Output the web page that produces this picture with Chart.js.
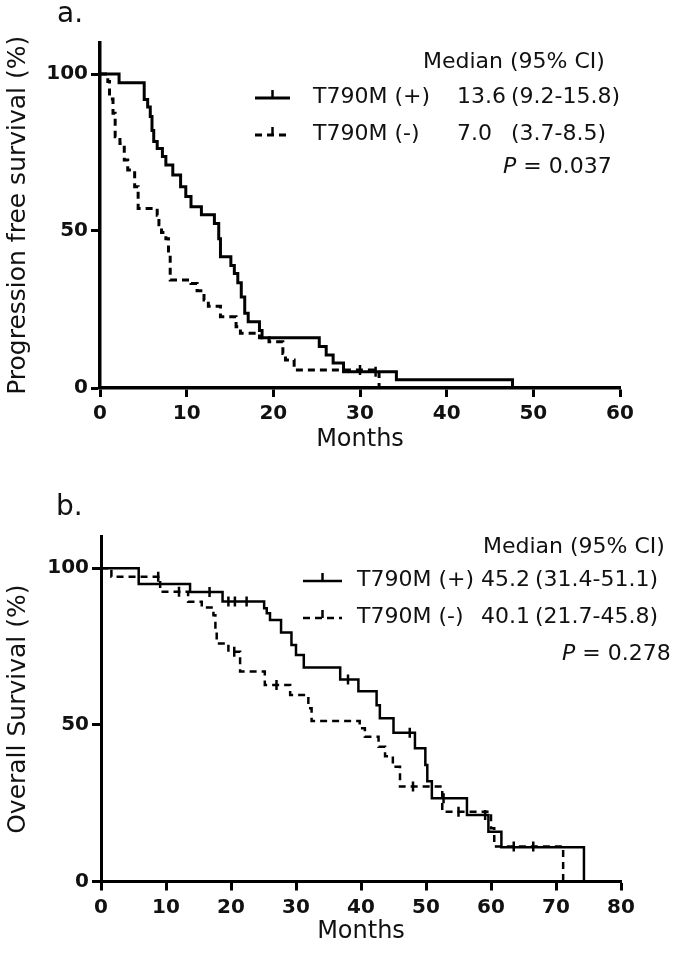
<!DOCTYPE html>
<html>
<head>
<meta charset="utf-8">
<script src="https://cdn.jsdelivr.net/npm/chart.js@4.4.0/dist/chart.umd.min.js"></script>
<style>
    body { margin: 0; background: #fff; }
    canvas { display: block; }
</style>
</head>
<body>
<canvas id="pfsChart" width="685" height="477"></canvas>
<canvas id="osChart" width="685" height="477"></canvas>
<script>
// a. progression free survival (KM steps)
var pfsPosMonths = [0, 2.2, 5.1, 5.5, 5.8, 6.0, 6.2, 6.6, 7.2, 7.6, 8.4, 9.3, 9.9, 10.5, 11.7, 13.2, 13.7, 13.9, 15.1, 15.5, 15.9, 16.3, 16.7, 17.1, 18.4, 18.7, 25.3, 26.1, 26.9, 28.1, 34.2, 47.6];
var pfsPosSurv = [100, 97.2, 91.9, 89.5, 86.5, 82, 78.5, 76.3, 73.7, 71, 67.8, 64.1, 61, 57.7, 55.2, 52.4, 47.5, 41.8, 39, 36.5, 33.5, 29, 23.8, 21.1, 18.3, 16, 13.2, 10.5, 8, 5.2, 2.6, 0];
var pfsNegMonths = [0, 0.9, 1.1, 1.5, 1.75, 2.3, 2.8, 3.2, 4.0, 4.4, 6.6, 6.8, 7.1, 7.6, 7.9, 8.1, 10.5, 11.2, 12.0, 12.5, 13.9, 15.7, 16.2, 18.4, 19.5, 21.1, 21.4, 22.4, 32.2];
var pfsNegSurv = [100, 97.6, 92, 87.5, 80, 77.9, 72.6, 69.4, 64.1, 57.2, 55, 52, 49.5, 47.5, 43, 34.4, 33.3, 31, 28, 26, 22.7, 19.5, 17.4, 16, 14.7, 11, 8.9, 5.7, 0];
var pfsPosCensorMonths = [31.8];
var pfsPosCensorSurv = [5.2];
var pfsNegCensorMonths = [30.0];
var pfsNegCensorSurv = [5.7];
var pfsXTicks = [0, 10, 20, 30, 40, 50, 60];

// b. overall survival
var osPosMonths = [0, 5.8, 13.7, 18.7, 25.1, 25.5, 26.0, 27.7, 29.3, 30.0, 31.2, 36.8, 39.6, 42.4, 42.9, 45.0, 48.3, 49.9, 50.2, 50.9, 56.3, 59.6, 61.6, 74.3];
var osPosSurv = [100, 95, 92.4, 89.4, 87.2, 85.6, 83.5, 79.5, 75.5, 72.3, 68.3, 64.5, 60.7, 56.3, 52.1, 47.5, 42.5, 37.2, 32, 26.6, 21.2, 15.9, 10.9, 0];
var osNegMonths = [0, 1.6, 9.1, 13.4, 15.5, 17.3, 17.6, 17.8, 19.6, 21.4, 25.2, 29.1, 31.9, 32.4, 39.8, 40.6, 42.7, 43.7, 44.9, 46.0, 52.5, 60.0, 60.5, 71.1];
var osNegSurv = [100, 97.3, 92.5, 89.3, 87.5, 85, 80, 76, 73.3, 67, 62.7, 59.5, 55.3, 51.2, 48.9, 46.2, 43, 40, 36.6, 30.3, 22.3, 17, 11.2, 0];
var osPosCensorMonths = [16.7, 19.6, 20.6, 22.4, 38.0, 47.5, 52.7, 59.1];
var osPosCensorSurv = [92.4, 89.4, 89.4, 89.4, 64.5, 47.5, 26.6, 21.2];
var osNegCensorMonths = [8.8, 12.0, 20.5, 27.0, 48.0, 55.0, 63.5, 66.5];
var osNegCensorSurv = [97.3, 92.5, 73.3, 62.7, 30.3, 22.3, 11.2, 11.2];
var osXTicks = [0, 10, 20, 30, 40, 50, 60, 70, 80];

var yTicks = [0, 50, 100];
var groupLabels = ['T790M (+)', 'T790M (-)'];
var pfsMedians = ['13.6', '7.0'];
var pfsCIs = ['(9.2-15.8)', '(3.7-8.5)'];
var osMedians = ['45.2', '40.1'];
var osCIs = ['(31.4-51.1)', '(21.7-45.8)'];
var pfsP = '0.037';
var osP = '0.278';

var FONT = '"DejaVu Sans", sans-serif';
var DASH = [7, 5];

function points(xs, ys) {
    return xs.map(function (x, i) { return { x: x, y: ys[i] }; });
}

function kmDatasets(posX, posY, negX, negY, pcX, pcY, ncX, ncY, lw) {
    return [
        { data: points(posX, posY), borderColor: '#000', borderWidth: lw, stepped: 'before', pointRadius: 0, fill: false },
        { data: points(negX, negY), borderColor: '#000', borderWidth: lw, borderDash: DASH, stepped: 'before', pointRadius: 0, fill: false },
        { data: points(pcX, pcY), showLine: false, pointStyle: 'line', rotation: 90, pointRadius: 5, pointBorderWidth: 2.5, pointBorderColor: '#000' },
        { data: points(ncX, ncY), showLine: false, pointStyle: 'line', rotation: 90, pointRadius: 5, pointBorderWidth: 2.5, pointBorderColor: '#000' }
    ];
}

function axes(xMax, xTicks, yTitle, yWidth, xHeight, monthsPad, lw) {
    var tickFont = { family: FONT, size: 20, weight: 'bold' };
    return {
        x: {
            type: 'linear', min: 0, max: xMax,
            afterBuildTicks: function (s) { s.ticks = xTicks.map(function (v) { return { value: v }; }); },
            afterFit: function (s) { s.height = xHeight; },
            ticks: { font: tickFont, color: '#111', padding: 5, autoSkip: false, maxRotation: 0 },
            grid: { drawOnChartArea: false, tickLength: 9, tickWidth: 3, tickColor: '#000', color: '#000' },
            border: { display: true, color: '#000', width: lw },
            title: { display: true, text: 'Months', font: { family: FONT, size: 24 }, color: '#111', padding: { top: 0, bottom: monthsPad } }
        },
        y: {
            min: 0, max: 110,
            afterBuildTicks: function (s) { s.ticks = yTicks.map(function (v) { return { value: v }; }); },
            afterFit: function (s) { s.width = yWidth; },
            ticks: { font: tickFont, color: '#111', padding: 3 },
            grid: { drawOnChartArea: false, tickLength: 9, tickWidth: 3, tickColor: '#000', color: '#000' },
            border: { display: true, color: '#000', width: lw },
            title: { display: true, text: yTitle, font: { family: FONT, size: 25 }, color: '#111', padding: { top: 3, bottom: 0 } }
        }
    };
}

// panel letter, medians table and P value
var kmLegend = {
    id: 'kmLegend',
    afterDraw: function (chart, args, o) {
        var ctx = chart.ctx;
        ctx.save();
        ctx.fillStyle = '#111';
        ctx.textBaseline = 'alphabetic';
        ctx.font = '28px ' + FONT;
        ctx.fillText(o.panel, o.panelX, o.panelY);

        ctx.textBaseline = 'middle';
        ctx.font = '22px ' + FONT;
        ctx.fillText('Median (95% CI)', o.headX, o.headY);
        for (var i = 0; i < 2; i++) {
            var y = o.rowY[i];
            ctx.strokeStyle = '#000';
            ctx.lineWidth = o.lw;
            ctx.setLineDash(i === 0 ? [] : DASH);
            ctx.beginPath();
            ctx.moveTo(o.sampleX[0], y + 1);
            ctx.lineTo(o.sampleX[1], y + 1);
            ctx.stroke();
            ctx.setLineDash([]);
            var mx = (o.sampleX[0] + o.sampleX[1]) / 2;
            ctx.lineWidth = 2.5;
            ctx.beginPath();
            ctx.moveTo(mx, y + 1);
            ctx.lineTo(mx, y - 7);
            ctx.stroke();
            ctx.fillText(groupLabels[i], o.labelX, y);
            ctx.fillText(o.medians[i], o.medX, y);
            ctx.fillText(o.cis[i], o.ciX, y);
        }
        ctx.font = 'italic 22px ' + FONT;
        ctx.fillText('P', o.pX, o.pY);
        var w = ctx.measureText('P').width;
        ctx.font = '22px ' + FONT;
        ctx.fillText(' = ' + o.p, o.pX + w, o.pY);
        ctx.restore();
    }
};

new Chart(document.getElementById('pfsChart').getContext('2d'), {
    type: 'line',
    data: { datasets: kmDatasets(pfsPosMonths, pfsPosSurv, pfsNegMonths, pfsNegSurv,
        pfsPosCensorMonths, pfsPosCensorSurv, pfsNegCensorMonths, pfsNegCensorSurv, 3) },
    options: {
        responsive: false,
        animation: false,
        layout: { padding: { top: 42.6, right: 65, bottom: 0, left: 0 } },
        scales: axes(60, pfsXTicks, 'Progression free survival (%)', 100, 89, 22.6, 3.5),
        plugins: {
            legend: { display: false },
            tooltip: { enabled: false },
            kmLegend: {
                panel: 'a.', panelX: 57, panelY: 22,
                headX: 423, headY: 62,
                rowY: [97, 134], sampleX: [255, 290], lw: 3,
                labelX: 313, medX: 457, ciX: 511,
                medians: pfsMedians, cis: pfsCIs,
                pX: 503, pY: 167, p: pfsP
            }
        }
    },
    plugins: [kmLegend]
});

new Chart(document.getElementById('osChart').getContext('2d'), {
    type: 'line',
    data: { datasets: kmDatasets(osPosMonths, osPosSurv, osNegMonths, osNegSurv,
        osPosCensorMonths, osPosCensorSurv, osNegCensorMonths, osNegCensorSurv, 2.5) },
    options: {
        responsive: false,
        animation: false,
        layout: { padding: { top: 59.9, right: 64, bottom: 0, left: 0 } },
        scales: axes(80, osXTicks, 'Overall Survival (%)', 101, 72.5, 7.6, 3),
        plugins: {
            legend: { display: false },
            tooltip: { enabled: false },
            kmLegend: {
                panel: 'b.', panelX: 56, panelY: 38,
                headX: 483, headY: 70,
                rowY: [103, 140], sampleX: [303, 342], lw: 2.5,
                labelX: 357, medX: 481, ciX: 535,
                medians: osMedians, cis: osCIs,
                pX: 562, pY: 177, p: osP
            }
        }
    },
    plugins: [kmLegend]
});
</script>
</body>
</html>
